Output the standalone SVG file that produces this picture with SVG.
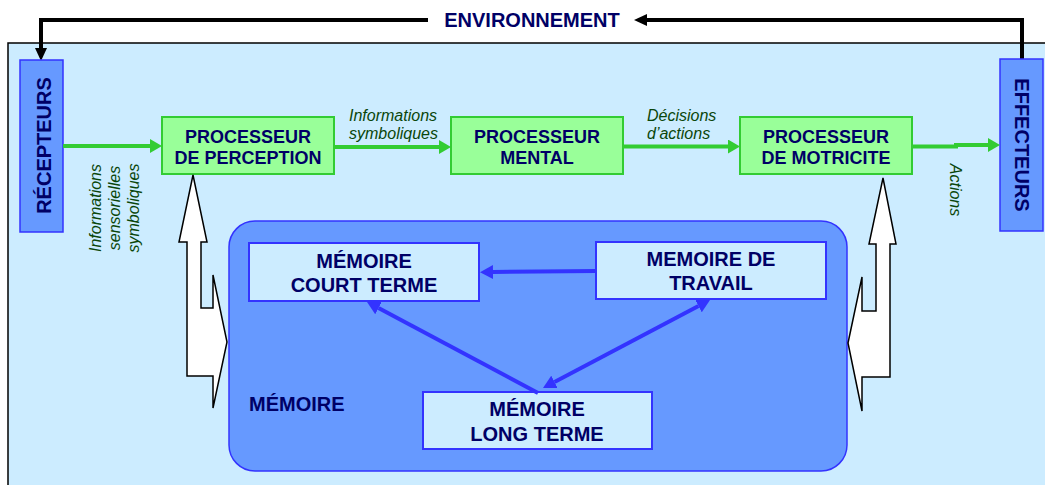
<svg xmlns="http://www.w3.org/2000/svg" width="1045" height="485" viewBox="0 0 1045 485">
  <defs>
    <marker id="headGreen" markerUnits="userSpaceOnUse" viewBox="0 0 12 14" markerWidth="12" markerHeight="14" refX="0" refY="7" orient="auto">
      <path d="M0,0 L12,7 L0,14 Z" fill="#33CC33"/>
    </marker>
    <marker id="headBlue" markerUnits="userSpaceOnUse" viewBox="0 0 13 14" markerWidth="13" markerHeight="14" refX="0" refY="7" orient="auto-start-reverse">
      <path d="M0,0 L13,7 L0,14 Z" fill="#3333FF"/>
    </marker>
    <marker id="headBlack" markerUnits="userSpaceOnUse" viewBox="0 0 13 12" markerWidth="13" markerHeight="12" refX="0" refY="6" orient="auto">
      <path d="M0,0 L13,6 L0,12 Z" fill="#000000"/>
    </marker>
  </defs>
  <style>
    .title { font-family: "Liberation Sans", Arial, sans-serif; font-weight: bold; fill: #000066; }
    .label { font-family: "Liberation Sans", Arial, sans-serif; font-style: italic; font-size: 16px; fill: #0A460A; }
    .proc { fill: #99FF99; stroke: #33CC33; stroke-width: 2; }
    .organ { fill: #6699FF; stroke: #3333FF; stroke-width: 1.5; }
    .mem { fill: #CCECFF; stroke: #3333FF; stroke-width: 2; }
    .green { fill: none; stroke: #33CC33; stroke-width: 4; marker-end: url(#headGreen); }
    .blue { fill: none; stroke: #3333FF; stroke-width: 4; }
    .black { fill: none; stroke: #000000; stroke-width: 4; stroke-linejoin: miter; marker-end: url(#headBlack); }
    .block { fill: #FFFFFF; stroke: #000000; stroke-width: 1.5; stroke-linejoin: miter; }
  </style>

  <!-- environment panel -->
  <rect x="8" y="43" width="1100" height="500" fill="#CCECFF" stroke="#000000" stroke-width="1.5"/>

  <!-- environment loop -->
  <g id="env-loop">
    <path class="black" d="M1022,59 L1022,20 L647,20"/>
    <path class="black" d="M428,20 L41,20 L41,48"/>
    <text class="title" x="532" y="27" font-size="20" text-anchor="middle">ENVIRONNEMENT</text>
  </g>

  <!-- memory container -->
  <g id="memoire">
    <rect x="229" y="221" width="618" height="250" rx="26" class="organ"/>
    <text class="title" x="249" y="411" font-size="20">MÉMOIRE</text>
  </g>

  <g id="recepteurs">
    <rect x="20" y="60" width="43" height="172" class="organ"/>
    <text class="title" transform="translate(51,145.5) rotate(-90)" font-size="20" text-anchor="middle">RÉCEPTEURS</text>
  </g>

  <g id="effecteurs">
    <rect x="1000" y="59" width="43" height="172" class="organ"/>
    <text class="title" transform="translate(1015,145) rotate(90)" font-size="20" text-anchor="middle">EFFECTEURS</text>
  </g>

  <g id="proc-perception">
    <rect x="162" y="117" width="172" height="57" class="proc"/>
    <text class="title" font-size="18" text-anchor="middle"><tspan x="248" y="143">PROCESSEUR</tspan><tspan x="248" y="164">DE PERCEPTION</tspan></text>
  </g>

  <g id="proc-mental">
    <rect x="451" y="117" width="172" height="57" class="proc"/>
    <text class="title" font-size="18" text-anchor="middle"><tspan x="537" y="143">PROCESSEUR</tspan><tspan x="537" y="164">MENTAL</tspan></text>
  </g>

  <g id="proc-motricite">
    <rect x="740" y="117" width="172" height="57" class="proc"/>
    <text class="title" font-size="18" text-anchor="middle"><tspan x="826" y="143">PROCESSEUR</tspan><tspan x="826" y="164">DE MOTRICITE</tspan></text>
  </g>

  <g id="mem-court-terme">
    <rect x="249" y="243" width="230" height="58" class="mem"/>
    <text class="title" font-size="20" text-anchor="middle"><tspan x="364" y="268">MÉMOIRE</tspan><tspan x="364" y="292">COURT TERME</tspan></text>
  </g>

  <g id="mem-travail">
    <rect x="596" y="242" width="230" height="57" class="mem"/>
    <text class="title" font-size="20" text-anchor="middle"><tspan x="711" y="266">MEMOIRE DE</tspan><tspan x="711" y="290">TRAVAIL</tspan></text>
  </g>

  <g id="mem-long-terme">
    <rect x="423" y="392" width="229" height="57" class="mem"/>
    <text class="title" font-size="20" text-anchor="middle"><tspan x="537" y="416">MÉMOIRE</tspan><tspan x="537" y="441">LONG TERME</tspan></text>
  </g>

  <!-- connectors -->
  <g id="connectors">
    <path class="green" d="M63,146 L150,146"/>
    <path class="green" d="M334,147 L439,147"/>
    <path class="green" d="M623,146.5 L728,146.5"/>
    <path class="green" d="M912,146.5 L956,146.5 L956,145 L988,145"/>

    <path class="blue" d="M596,271 L493,272" marker-end="url(#headBlue)"/>
    <path class="blue" d="M538,393 L378.5,308.1" marker-end="url(#headBlue)"/>
    <path class="blue" d="M554.5,381.9 L698.5,306.1" marker-start="url(#headBlue)" marker-end="url(#headBlue)"/>

    <!-- exchanges between processors and memory -->
    <path class="block" d="M193,175 L207,242 L201,242 L201,308 L213,308 L213,275 L227,342 L213,408 L213,376 L187,376 L187,242 L179,242 Z"/>
    <path class="block" d="M883,178 L896,244 L890,244 L890,377 L862,377 L862,411 L848,343 L862,277 L862,311 L876,311 L876,244 L869,244 Z"/>
  </g>

  <!-- connector labels -->
  <g id="labels">
    <text class="label" transform="translate(0,208) rotate(-90)" text-anchor="middle"><tspan x="0" y="101">Informations</tspan><tspan x="0" y="120">sensorielles</tspan><tspan x="0" y="139">symboliques</tspan></text>
    <text class="label"><tspan x="349" y="121">Informations</tspan><tspan x="349" y="139">symboliques</tspan></text>
    <text class="label"><tspan x="647" y="121">Décisions</tspan><tspan x="647" y="139">d’actions</tspan></text>
    <text class="label" transform="translate(950,190) rotate(90)" text-anchor="middle">Actions</text>
  </g>
</svg>
